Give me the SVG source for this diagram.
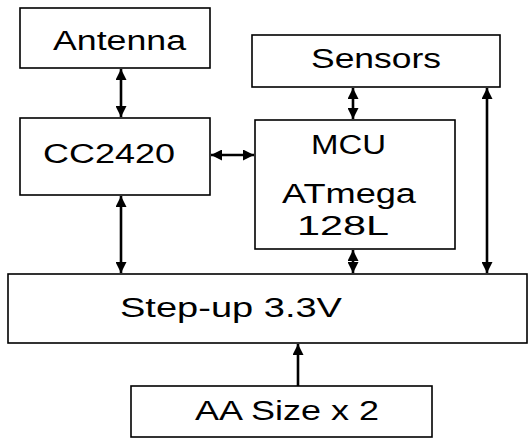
<svg xmlns="http://www.w3.org/2000/svg" width="528" height="439" viewBox="0 0 528 439">
<style>
.box{fill:#fff;stroke:#000;stroke-width:1.6}
.lbl{font-family:"Liberation Sans",Arial,sans-serif;font-size:27px;fill:#000}
.con{stroke:#000;stroke-width:2.6;fill:none;marker-start:url(#ah);marker-end:url(#ah)}
.one{stroke:#000;stroke-width:2.6;fill:none;marker-end:url(#ah)}
</style>
<defs>
<marker id="ah" viewBox="0 0 10 10" refX="10" refY="5" markerUnits="userSpaceOnUse" markerWidth="11" markerHeight="11" orient="auto-start-reverse">
<path d="M0,0 L10,5 L0,10 Z" fill="#000"/>
</marker>
</defs>
<rect width="528" height="439" fill="#fff"/>
<g id="antenna"><rect class="box" x="20" y="8" width="190" height="60"/><text class="lbl" x="53" y="50" textLength="133" lengthAdjust="spacingAndGlyphs">Antenna</text></g>
<g id="cc2420"><rect class="box" x="20" y="118" width="190" height="77"/><text class="lbl" x="43" y="163" textLength="132" lengthAdjust="spacingAndGlyphs">CC2420</text></g>
<g id="sensors"><rect class="box" x="252" y="35" width="248" height="52"/><text class="lbl" x="311" y="68" textLength="130" lengthAdjust="spacingAndGlyphs">Sensors</text></g>
<g id="mcu"><rect class="box" x="255" y="120" width="200" height="129"/><text class="lbl" x="311" y="154" textLength="75" lengthAdjust="spacingAndGlyphs">MCU</text><text class="lbl" x="282" y="203" textLength="134" lengthAdjust="spacingAndGlyphs">ATmega</text><text class="lbl" x="297" y="235" textLength="92" lengthAdjust="spacingAndGlyphs">128L</text></g>
<g id="stepup"><rect class="box" x="8" y="274" width="519" height="69"/><text class="lbl" x="120" y="317" textLength="222" lengthAdjust="spacingAndGlyphs">Step-up 3.3V</text></g>
<g id="aa"><rect class="box" x="131" y="386" width="301" height="51"/><text class="lbl" x="195" y="420" textLength="184" lengthAdjust="spacingAndGlyphs">AA Size x 2</text></g>
<g id="connectors">
<line class="con" x1="121" y1="69" x2="121" y2="117"/>
<line class="con" x1="211" y1="155" x2="254" y2="155"/>
<line class="con" x1="121" y1="196" x2="121" y2="273"/>
<line class="con" x1="353" y1="88" x2="353" y2="119"/>
<line class="con" x1="353" y1="250" x2="353" y2="273"/>
<line class="con" x1="487" y1="88" x2="487" y2="273"/>
<line class="one" x1="298" y1="386" x2="298" y2="344"/>
</g>
</svg>
